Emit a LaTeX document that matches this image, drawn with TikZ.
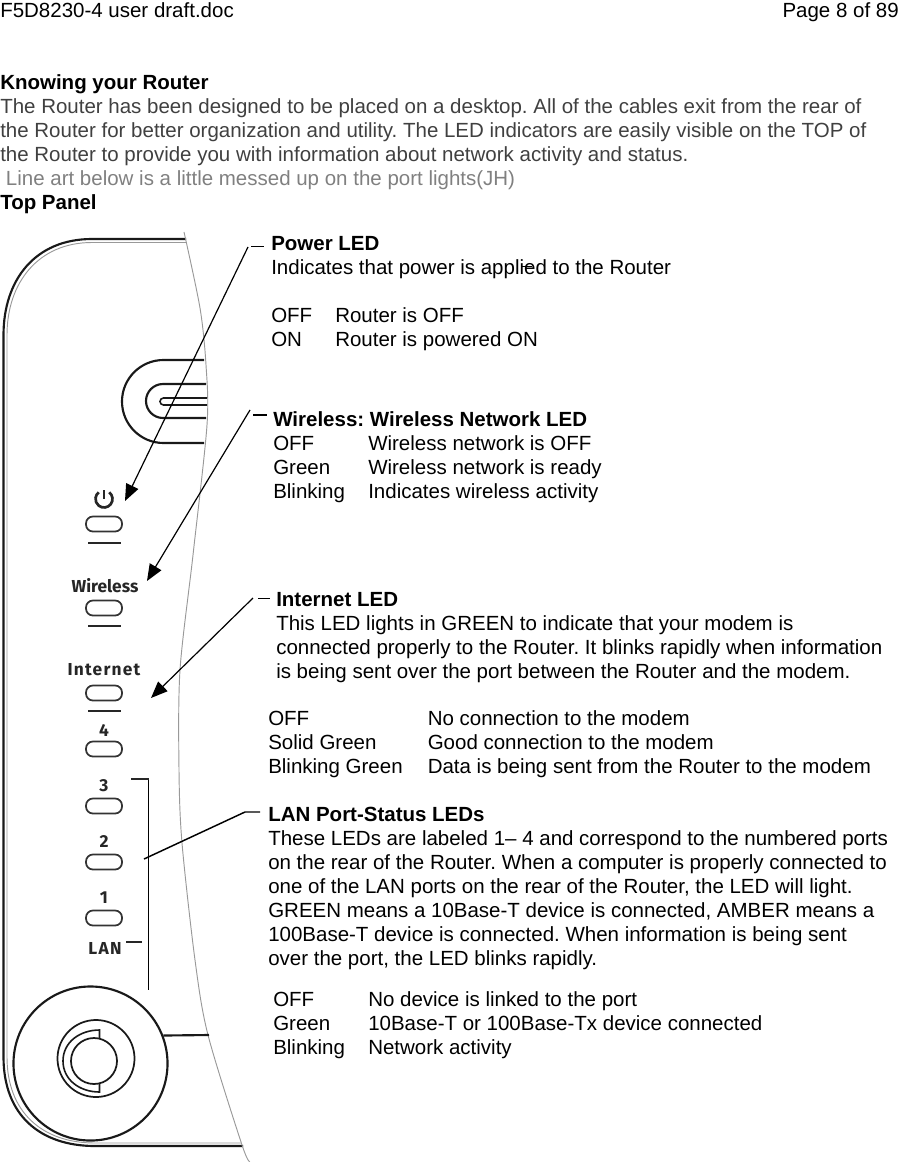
\documentclass[tikz,border=0pt]{standalone}
\usepackage{fontspec}
\setmainfont{Liberation Sans}
\setsansfont{Fira Sans}
\usepackage{xcolor}
\usetikzlibrary{arrows.meta,positioning,calc}
\definecolor{bodygrey}{HTML}{404040}
\definecolor{notegrey}{HTML}{808080}

\begin{document}
\frenchspacing
\begin{tikzpicture}[x=0.75pt,y=-0.75pt,>={Triangle[length=12.5pt,width=10pt]},
  txt/.style={anchor=north west,inner sep=0pt,align=left,font=\fontsize{15.37}{18}\selectfont},
  head/.style={anchor=base west,inner sep=0pt,font=\fontsize{15.37}{18}\selectfont},
  shell/.style={line width=1.6pt,black!90},
  thin shell/.style={line width=0.7pt,black!40},
  led/.style={draw=black!80,line width=1.3pt,rounded corners=5.2pt,minimum width=36pt/1.333,minimum height=15pt/1.333,inner sep=0pt},
  bar/.style={line width=1.6pt,black!85},
  lbl/.style={inner sep=0pt,font=\sffamily\bfseries\fontsize{13}{14}\selectfont,text=black!85},
  wide lbl/.style={lbl,font=\sffamily\bfseries\fontsize{13}{14}\selectfont\addfontfeature{LetterSpace=7}},
  call/.style={line width=0.9pt},
  tick/.style={line width=0.7pt}]
  \useasboundingbox (0,0) rectangle (899,1162);
  % header and intro
  \node[head] (file) at (0,18) {F5D8230-4 user draft.doc};
  \node[head,anchor=base east] (page) at (899,18) {Page 8 of 89};
  \node[txt,text=bodygrey] (intro) at (0,74.5) {\textcolor{black}{\textbf{Knowing your Router}}\\
    The Router has been designed to be placed on a desktop. All of the cables exit from the rear of\\
    the Router for better organization and utility. The LED indicators are easily visible on the TOP of\\
    the Router to provide you with information about network activity and status.\\
    \textcolor{notegrey}{\ Line art below is a little messed up on the port lights(JH)}\\
    \textcolor{black}{\textbf{Top Panel}}};
  % router outline
  \draw[shell] (186,239) -- (92,239) .. controls (35,239) and (3.5,280) .. (3.5,335) -- (3.5,1057)
    .. controls (3.5,1115) and (40,1146) .. (95,1146) -- (243,1146);
  \draw[thin shell] (186,242.5) -- (92,242.5) .. controls (38,242.5) and (7,283) .. (7,335) -- (7,1057)
    .. controls (7,1112) and (42,1143) .. (95,1143) -- (241,1143);
  \draw[thin shell] plot[smooth] coordinates {(184,232) (200,308) (206,365) (207,425) (193,555)
    (180,670) (179,770) (182,843) (195,960) (208,1035) (242,1145) (250,1162)};
  % slider
  \draw[shell] (204,360) -- (163.5,360) arc[start angle=-90,end angle=-270,radius=41.5] -- (204,443);
  \draw[shell] (206,384) -- (163,384) arc[start angle=-90,end angle=-270,radius=17] -- (206,418);
  \draw[shell,line width=1.2pt] (207,398) -- (163.5,398) arc[start angle=-90,end angle=-270,radius=3.5] -- (207,405);
  % power mark, LEDs and labels
  \draw[line width=2pt,black!85] (104,499) ++(-52:8.5) arc[start angle=-52,end angle=232,radius=8.5];
  \draw[line width=2pt,black!85] (104,490) -- (104,499);
  \node[led] (ledpower) at (104,524) {};
  \draw[bar] (88,543) -- (121,543);
  \node[lbl] (lblwireless) at (105,586) {Wireless};
  \node[led] (ledwireless) at (104,608) {};
  \draw[bar] (88,626) -- (121,626);
  \node[wide lbl] (lblinternet) at (104,670) {Internet};
  \node[led] (ledinternet) at (104,693) {};
  \draw[bar] (88,711) -- (121,711);
  \node[lbl] (lblfour) at (104,730) {4};
  \node[led] (ledfour) at (104,749) {};
  \node[lbl] (lblthree) at (104,786) {3};
  \node[led] (ledthree) at (104,806) {};
  \node[lbl] (lbltwo) at (104,842) {2};
  \node[led] (ledtwo) at (104,862) {};
  \node[lbl] (lblone) at (104,898) {1};
  \node[led] (ledone) at (104,918) {};
  \node[wide lbl] (lbllan) at (105,948) {LAN};
  % knob
  \node[draw,circle,shell,minimum size=154pt/1.333,inner sep=0pt] (knob) at (90.5,1063.5) {};
  \node[draw,circle,shell,line width=1.3pt,minimum size=77pt/1.333,inner sep=0pt] (knobmid) at (96,1058.5) {};
  \node[draw,circle,shell,line width=1.3pt,minimum size=46pt/1.333,inner sep=0pt] (knobin) at (94,1061) {};
  \draw[shell,line width=1.2pt] (99.5,1038) -- (99.5,1030) .. controls (80,1030) and (63,1042) .. (63,1061)
    .. controls (63,1080) and (80,1092) .. (99.5,1092) -- (99.5,1084);
  \coordinate (knobtab) at (209,1035);
  \draw[shell] (knob.21.7) -- (knobtab);
  % bracket
  \coordinate (bracka) at (131,779);
  \coordinate (brackb) at (148.5,779);
  \coordinate (brackc) at (148.5,990);
  \coordinate (brackd) at (126,942);
  \coordinate (bracke) at (142,942);
  \draw[line width=0.8pt] (brackb) -- (brackc);
  \draw[bar] (bracka) -- (brackb);
  \draw[bar] (brackd) -- (bracke);
  % text blocks
  \node[txt] (power) at (271,236.5) {\textbf{Power LED}\\Indicates that power is applied to the Router};
  \node[txt] (poweroff) at (271,307.5) {OFF\\ON};
  \node[txt] (poweroffb) at (335,307.5) {Router is OFF\\Router is powered ON};
  \node[txt] (wireless) at (273,411.5) {\textbf{Wireless: Wireless Network LED}\\OFF\\Green\\Blinking};
  \node[txt] (wirelessb) at (368,435.5) {Wireless network is OFF\\Wireless network is ready\\Indicates wireless activity};
  \node[txt] (internet) at (276,592.5) {\textbf{Internet LED}\\This LED lights in GREEN to indicate that your modem is\\connected properly to the Router. It blinks rapidly when information\\is being sent over the port between the Router and the modem.};
  \node[txt] (intstat) at (268,710.5) {OFF\\Solid Green\\Blinking Green};
  \node[txt] (intstatb) at (427.5,710.5) {No connection to the modem\\Good connection to the modem\\Data is being sent from the Router to the modem};
  \node[txt] (lan) at (268,806.5) {\textbf{LAN Port-Status LEDs}\\These LEDs are labeled 1– 4 and correspond to the numbered ports\\on the rear of the Router. When a computer is properly connected to\\one of the LAN ports on the rear of the Router, the LED will light.\\GREEN means a 10Base-T device is connected, AMBER means a\\100Base-T device is connected. When information is being sent\\over the port, the LED blinks rapidly.};
  \node[txt] (lanstat) at (273,992.2) {OFF\\Green\\Blinking};
  \node[txt] (lanstatb) at (368,991.4) {No device is linked to the port\\10Base-T or 100Base-Tx device connected\\Network activity};
  % callouts
  \coordinate (powerend) at (248,247);
  \coordinate (powertip) at (125,501);
  \coordinate (wirelessend) at (250,410);
  \coordinate (wirelesstip) at (147,581);
  \coordinate (internetend) at (253,598);
  \coordinate (internettip) at (151,698);
  \coordinate (lanstart) at (144,859);
  \coordinate (lanend) at (245,812);
  \coordinate (lanknee) at (260,812);
  \draw[->,call] (powerend) -- (powertip);
  \draw[->,call] (wirelessend) -- (wirelesstip);
  \draw[->,call] (internetend) -- (internettip);
  \draw[call,line width=1.1pt] (lanstart) -- (lanend) -- (lanknee);
  \draw[tick] (251,246) -- (264,246);
  \draw[tick,line width=1.1pt] (253,415) -- (267,415);
  \draw[tick] (258,598) -- (270,598);
  \draw[tick] (522,266) -- (532,266);
\end{tikzpicture}
\end{document}
